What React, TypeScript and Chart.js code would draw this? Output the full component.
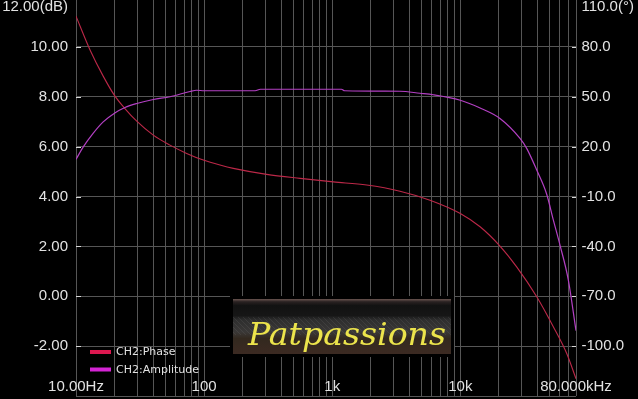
import React, { useEffect, useRef } from 'react';
import { Chart, registerables } from 'chart.js';

Chart.register(...registerables);

// ---- data ----
const ampFreqHz = [10, 11.4, 13.6, 16.3, 20.1, 24.1, 29.8, 40.1, 54.2, 77.6, 87.5, 100, 250, 275, 1180, 1250, 3380, 4840, 6150, 10000, 14270, 20400, 29240, 32970, 39500, 47250, 53200, 60000, 69700, 80000];
const ampDb = [5.49, 5.99, 6.53, 6.99, 7.35, 7.57, 7.73, 7.89, 8.0, 8.21, 8.26, 8.24, 8.24, 8.3, 8.3, 8.24, 8.22, 8.14, 8.08, 7.86, 7.55, 7.13, 6.33, 5.93, 5.06, 4.09, 3.06, 2.05, 0.65, -1.38];

const phaseFreqHz = [10, 12.9, 16.3, 19.9, 24.1, 29.8, 40.1, 54.2, 73.1, 98.6, 133, 169, 308, 561, 1021, 1858, 3380, 5800, 10000, 14270, 20400, 27540, 39500, 53200, 67600, 80000];
const phaseDeg = [98.5, 78.0, 62.4, 51.0, 42.9, 35.3, 26.9, 20.9, 15.9, 11.9, 8.9, 6.9, 3.3, 0.9, -1.2, -3.1, -6.8, -12.2, -20.2, -28.2, -39.8, -52.3, -70.3, -88.3, -104.3, -119.6];

const leftTickValues = [10, 8, 6, 4, 2, 0, -2];
const leftTickLabels = ['10.00', '8.00', '6.00', '4.00', '2.00', '0.00', '-2.00'];
const rightTickValues = [80, 50, 20, -10, -40, -70, -100];
const rightTickLabels = ['80.0', '50.0', '20.0', '-10.0', '-40.0', '-70.0', '-100.0'];
const xLabelValues = [10, 100, 1000, 10000, 80000];
const xLabelTexts = ['10.00Hz', '100', '1k', '10k', '80.000kHz'];
const leftTopLabel = '12.00(dB)';
const rightTopLabel = '110.0(°)';
const seriesNames = ['CH2:Phase', 'CH2:Amplitude'];
const watermarkText = 'Patpassions';

const LEFT_MIN = -4, LEFT_MAX = 12;
const RIGHT_MIN = -130, RIGHT_MAX = 110;
const X_MIN = 10, X_MAX = 80000;

const PHASE_COLOR = '#bc2848';
const AMP_COLOR = '#b440c4';
const PHASE_SWATCH = '#dc1850';
const AMP_SWATCH = '#d424d4';
const GRID_COLOR = '#565656';
const TEXT_COLOR = '#e2e2e2';

function gridFreqs(): number[] {
  const out: number[] = [];
  for (let e = 1; e <= 4; e++) {
    for (let m = 1; m <= 9; m++) {
      const v = m * Math.pow(10, e);
      if (v <= X_MAX) out.push(v);
    }
  }
  return out;
}

function gridLeft(): number[] {
  const out: number[] = [];
  for (let v = LEFT_MIN; v <= LEFT_MAX; v += 2) out.push(v);
  return out;
}

const overlayPlugin = {
  id: 'overlay',
  beforeDraw(chart: any) {
    const ctx = chart.ctx;
    ctx.save();
    ctx.fillStyle = '#000';
    ctx.fillRect(0, 0, chart.width, chart.height);
    ctx.restore();
  },
  afterDraw(chart: any) {
    const ctx: CanvasRenderingContext2D = chart.ctx;
    const { left, right, bottom } = chart.chartArea;
    const xs = chart.scales.x;
    const yl = chart.scales.yL;
    const yr = chart.scales.yR;
    ctx.save();

    // tick stubs
    ctx.strokeStyle = '#d8d8d8';
    ctx.lineWidth = 1;
    leftTickValues.forEach((v) => {
      const y = Math.round(yl.getPixelForValue(v)) + 0.5;
      ctx.beginPath();
      ctx.moveTo(left, y);
      ctx.lineTo(left + 5, y);
      ctx.stroke();
    });
    rightTickValues.forEach((v) => {
      const y = Math.round(yr.getPixelForValue(v)) + 0.5;
      ctx.beginPath();
      ctx.moveTo(right - 4, y);
      ctx.lineTo(right, y);
      ctx.stroke();
    });

    // axis labels
    ctx.font = '15px "Liberation Sans", Arial, sans-serif';
    ctx.fillStyle = TEXT_COLOR;
    ctx.textBaseline = 'middle';
    ctx.textAlign = 'right';
    leftTickValues.forEach((v, i) => {
      ctx.fillText(leftTickLabels[i], left - 8, yl.getPixelForValue(v));
    });
    ctx.textAlign = 'left';
    rightTickValues.forEach((v, i) => {
      ctx.fillText(rightTickLabels[i], right + 5.5, yr.getPixelForValue(v));
    });
    ctx.textBaseline = 'alphabetic';
    ctx.textAlign = 'right';
    ctx.fillText(leftTopLabel, left - 8, yl.getPixelForValue(LEFT_MAX) + 14);
    ctx.textAlign = 'left';
    ctx.fillText(rightTopLabel, right + 5.5, yr.getPixelForValue(RIGHT_MAX) + 14);

    ctx.textAlign = 'center';
    ctx.textBaseline = 'middle';
    xLabelValues.forEach((v, i) => {
      ctx.fillText(xLabelTexts[i], xs.getPixelForValue(v), bottom - 9);
    });

    // legend
    const lx = left + 14;
    const ly0 = bottom - 44;
    const swatches = [PHASE_SWATCH, AMP_SWATCH];
    ctx.font = '11px "DejaVu Sans", sans-serif';
    ctx.textAlign = 'left';
    seriesNames.forEach((name, i) => {
      const cy = ly0 + i * 17.5;
      ctx.fillStyle = swatches[i];
      ctx.fillRect(lx, cy - 2, 21, 4);
      ctx.fillStyle = TEXT_COLOR;
      ctx.fillText(name, lx + 26, cy + 0.5);
    });

    // watermark box
    const bx = 233, by = bottom - 97, bw = 218, bh = 55;
    ctx.fillStyle = '#000';
    ctx.fillRect(bx - 3, by - 3, bw + 6, bh + 6);
    const g = ctx.createLinearGradient(0, by, 0, by + bh);
    g.addColorStop(0, '#6a5550');
    g.addColorStop(0.05, '#2a2222');
    g.addColorStop(0.12, '#121212');
    g.addColorStop(0.3, '#161616');
    g.addColorStop(0.38, '#2e2e2e');
    g.addColorStop(0.6, '#3a3837');
    g.addColorStop(0.72, '#33291f');
    g.addColorStop(1, '#3c2a22');
    ctx.fillStyle = g;
    ctx.fillRect(bx, by, bw, bh);
    ctx.save();
    ctx.beginPath();
    ctx.rect(bx, by + 18, bw, 18);
    ctx.clip();
    ctx.strokeStyle = 'rgba(120,120,120,0.18)';
    for (let i = -20; i < bw + 20; i += 5) {
      ctx.beginPath();
      ctx.moveTo(bx + i, by + 18);
      ctx.lineTo(bx + i + 18, by + 36);
      ctx.stroke();
    }
    ctx.restore();
    ctx.font = 'italic 31px "DejaVu Serif", serif';
    const w = ctx.measureText(watermarkText).width;
    ctx.save();
    ctx.translate(bx + 15, by + 46);
    ctx.scale(198 / w, 1);
    ctx.fillStyle = '#ece44c';
    ctx.textAlign = 'left';
    ctx.textBaseline = 'alphabetic';
    ctx.fillText(watermarkText, 0, 0);
    ctx.restore();

    ctx.restore();
  },
};

export default function App() {
  const ref = useRef<HTMLCanvasElement | null>(null);
  useEffect(() => {
    if (!ref.current) return;
    const chart = new Chart(ref.current, {
      type: 'line',
      data: {
        datasets: [
          {
            label: seriesNames[1],
            data: ampFreqHz.map((f, i) => ({ x: f, y: ampDb[i] })),
            borderColor: AMP_COLOR,
            borderWidth: 1.2,
            pointRadius: 0,
            cubicInterpolationMode: 'monotone',
            yAxisID: 'yL',
          },
          {
            label: seriesNames[0],
            data: phaseFreqHz.map((f, i) => ({ x: f, y: phaseDeg[i] })),
            borderColor: PHASE_COLOR,
            borderWidth: 1.1,
            pointRadius: 0,
            cubicInterpolationMode: 'monotone',
            yAxisID: 'yR',
          },
        ],
      },
      options: {
        animation: false,
        responsive: false,
        maintainAspectRatio: false,
        devicePixelRatio: 1,
        layout: { padding: { left: 76, right: 62, top: 0, bottom: 1 } },
        plugins: { legend: { display: false }, tooltip: { enabled: false } },
        scales: {
          x: {
            type: 'logarithmic',
            min: X_MIN,
            max: X_MAX,
            ticks: { display: false },
            grid: { color: GRID_COLOR, drawTicks: false, lineWidth: 1 },
            border: { display: false },
            afterBuildTicks: (s: any) => {
              s.ticks = gridFreqs().map((v) => ({ value: v }));
            },
          },
          yL: {
            type: 'linear',
            position: 'left',
            min: LEFT_MIN,
            max: LEFT_MAX,
            ticks: { display: false },
            grid: { color: GRID_COLOR, drawTicks: false, lineWidth: 1 },
            border: { display: false },
            afterBuildTicks: (s: any) => {
              s.ticks = gridLeft().map((v) => ({ value: v }));
            },
          },
          yR: {
            type: 'linear',
            position: 'right',
            min: RIGHT_MIN,
            max: RIGHT_MAX,
            ticks: { display: false },
            grid: { display: false, drawTicks: false },
            border: { display: false },
          },
        },
      } as any,
      plugins: [overlayPlugin],
    });
    return () => chart.destroy();
  }, []);
  return (
    <div style={{ position: 'fixed', left: 0, top: 0, width: 638, height: 399, overflow: 'hidden', background: '#000' }}>
      <canvas ref={ref} width={638} height={400} style={{ position: 'absolute', left: 0, top: -3, width: 638, height: 400 }} />
    </div>
  );
}
